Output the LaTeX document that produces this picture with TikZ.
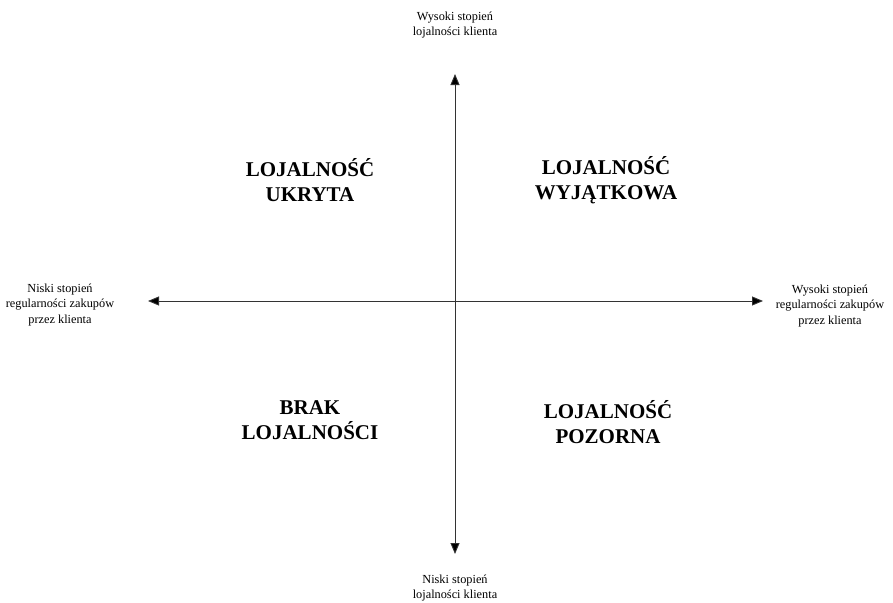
\documentclass[tikz,border=0pt]{standalone}
\usepackage{fontspec}
\setmainfont{Liberation Serif}
\usetikzlibrary{arrows.meta}

\begin{document}
\begin{tikzpicture}[x=1pt, y=-1pt,
    axis/.style={line width=0.9pt, black!80, {Triangle[length=11pt,width=9pt,fill=black]}-{Triangle[length=11pt,width=9pt,fill=black]}},
    endlabel/.style={align=center, font=\fontsize{12.3}{15.5}\selectfont, inner sep=0pt},
    quad/.style={align=center, font=\fontsize{21}{24.5}\selectfont\bfseries, inner sep=0pt}]

    \useasboundingbox (0,0) rectangle (893,602);

    % ends of the two axes
    \coordinate (top) at (455,74);
    \coordinate (bottom) at (455,554);
    \coordinate (left) at (148,301);
    \coordinate (right) at (763,301);

    \draw[axis] (bottom) -- (top);
    \draw[axis] (left) -- (right);

    % axis labels
    \node[endlabel] (hiloy) at (455,25) {Wysoki stopień\\lojalności klienta};
    \node[endlabel] (loloy) at (455,588) {Niski stopień\\lojalności klienta};
    \node[endlabel] (loreg) at (60,305) {Niski stopień\\regularności zakupów\\przez klienta};
    \node[endlabel] (hireg) at (830,306) {Wysoki stopień\\regularności zakupów\\przez klienta};

    % quadrants
    \node[quad] (ukryta) at (310,180) {LOJALNOŚĆ\\UKRYTA};
    \node[quad] (wyjatk) at (606,180) {LOJALNOŚĆ\\WYJĄTKOWA};
    \node[quad] (brak) at (310,420) {BRAK\\LOJALNOŚCI};
    \node[quad] (pozorna) at (608,422) {LOJALNOŚĆ\\POZORNA};

\end{tikzpicture}
\end{document}
